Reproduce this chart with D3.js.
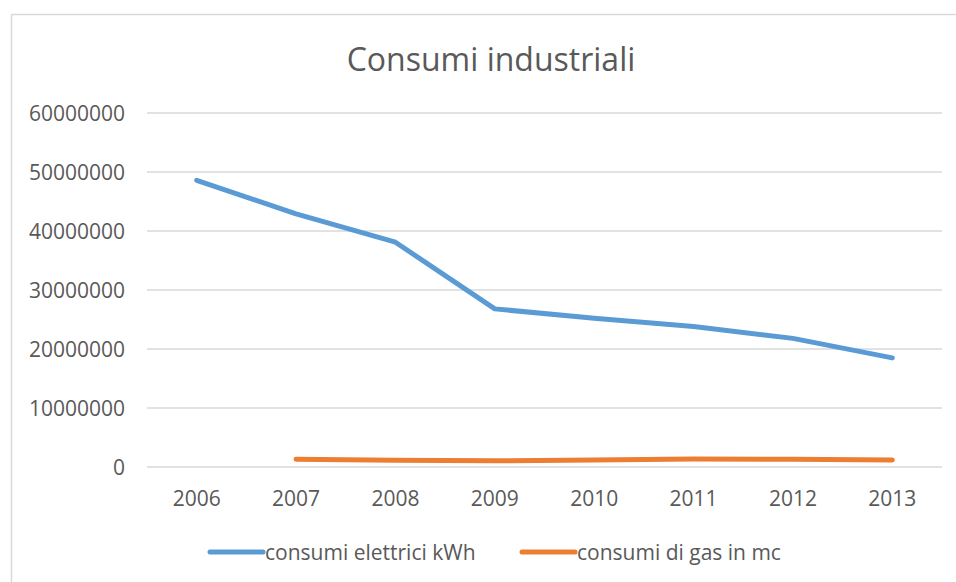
<!DOCTYPE html>
<html>
<head>
<meta charset="utf-8">
<script src="https://cdn.jsdelivr.net/npm/d3@7"></script>
<style>
  body { margin: 0; background: #fff; }
  text { font-family: "Open Sans", sans-serif; fill: #595959; }
</style>
</head>
<body>
<div id="chart"></div>
<script>
var years = ["2006", "2007", "2008", "2009", "2010", "2011", "2012", "2013"];
var elettrici = [48600000, 42900000, 38100000, 26800000, 25200000, 23800000, 21800000, 18500000];
var gas = [null, 1300000, 1150000, 1050000, 1200000, 1350000, 1300000, 1200000];
var yTicks = [0, 10000000, 20000000, 30000000, 40000000, 50000000, 60000000];
var seriesNames = ["consumi elettrici kWh", "consumi di gas in mc"];
var colors = ["#5b9bd5", "#ed7d31"];

var svgWidth = 956, svgHeight = 582;
var margin = { top: 113, right: 14, bottom: 115, left: 147 };
var width = svgWidth - margin.left - margin.right;
var height = svgHeight - margin.top - margin.bottom;

var svg = d3.select("#chart").append("svg")
  .attr("width", svgWidth)
  .attr("height", svgHeight);

// chart area border
svg.append("rect")
  .attr("x", 11.5).attr("y", 14.5)
  .attr("width", 960).attr("height", 600)
  .attr("fill", "none")
  .attr("stroke", "#d9d9d9")
  .attr("stroke-width", 1.5);

svg.append("text")
  .attr("x", 491).attr("y", 71)
  .attr("text-anchor", "middle")
  .style("font-size", "32px")
  .text("Consumi industriali");

var g = svg.append("g")
  .attr("transform", `translate(${margin.left}, ${margin.top})`);

var x = d3.scaleBand().domain(years).range([0, width]);
var y = d3.scaleLinear().domain([0, 60000000]).range([height, 0]);

// gridlines
g.selectAll(".grid").data(yTicks).enter().append("line")
  .attr("x1", 0).attr("x2", width)
  .attr("y1", d => y(d)).attr("y2", d => y(d))
  .attr("stroke", "#d9d9d9")
  .attr("stroke-width", 1.5);

var yAxis = g.append("g")
  .call(d3.axisLeft(y).tickValues(yTicks).tickFormat(d3.format("d")).tickSize(0).tickPadding(22));
yAxis.select(".domain").remove();
yAxis.selectAll("text").style("font-size", "21px").attr("fill", "#595959").attr("dy", "0.35em");

var xAxis = g.append("g")
  .attr("transform", `translate(0, ${height})`)
  .call(d3.axisBottom(x).tickSize(0).tickPadding(24));
xAxis.select(".domain").remove();
xAxis.selectAll("text").style("font-size", "21px").attr("fill", "#595959");

var line = d3.line()
  .defined(d => d != null)
  .x((d, i) => x(years[i]) + x.bandwidth() / 2)
  .y(d => y(d));

[elettrici, gas].forEach(function(s, i) {
  g.append("path")
    .datum(s)
    .attr("d", line)
    .attr("fill", "none")
    .attr("stroke", colors[i])
    .attr("stroke-width", 5)
    .attr("stroke-linecap", "round")
    .attr("stroke-linejoin", "round");
});

// legend
var legendX = [210, 522];
seriesNames.forEach(function(name, i) {
  svg.append("line")
    .attr("x1", legendX[i]).attr("x2", legendX[i] + 53)
    .attr("y1", 552).attr("y2", 552)
    .attr("stroke", colors[i])
    .attr("stroke-width", 5)
    .attr("stroke-linecap", "round");
  svg.append("text")
    .attr("x", legendX[i] + 55).attr("y", 560)
    .style("font-size", "21px")
    .text(name);
});
</script>
</body>
</html>
